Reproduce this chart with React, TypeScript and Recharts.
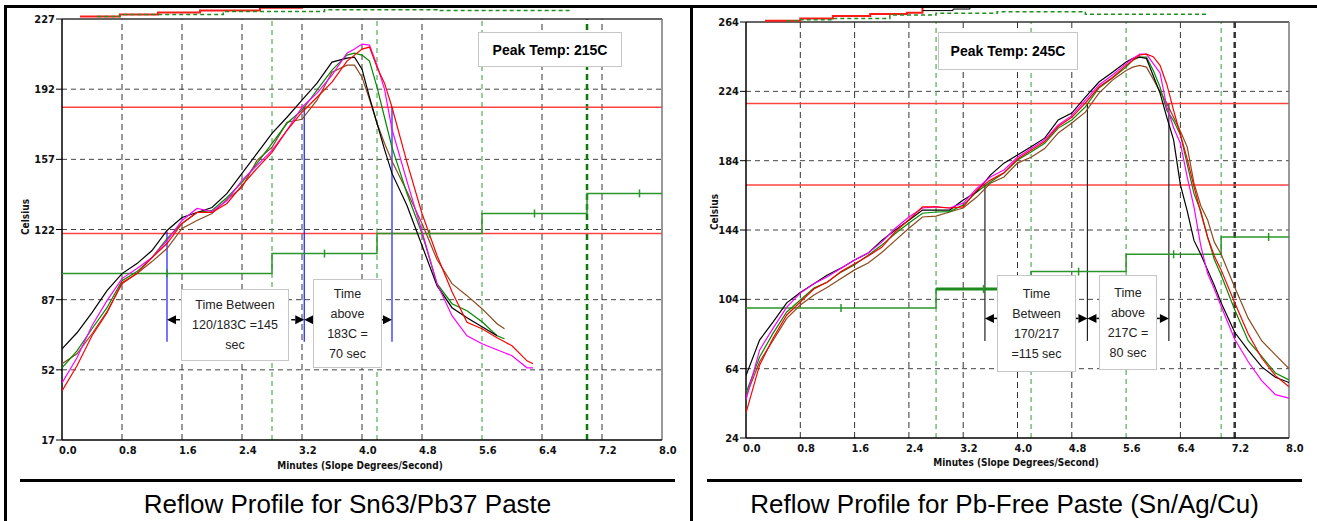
import React from "react";
import { ComposedChart, Line, XAxis, YAxis, ReferenceLine } from "recharts";

const FONT = "'Liberation Sans', Arial, sans-serif";
const NARROW = "'Liberation Sans Narrow', 'DejaVu Sans Condensed', Arial, sans-serif";

// shared axis / oven layout (minutes)
const xTicks = [0, 0.8, 1.6, 2.4, 3.2, 4.0, 4.8, 5.6, 6.4, 7.2, 8.0];
const gridTimes = [0.8, 1.6, 2.4, 3.2, 4.0, 4.8, 6.4, 7.2];
const zoneEdges = [0, 2.8, 4.2, 5.6, 7.0, 8.0];
const zoneMarks = [1.4, 3.5, 4.9, 6.3, 7.7];

// ---------- Sn63/Pb37 ----------
const yTicksL = [17, 52, 87, 122, 157, 192, 227];
const limitsL = [120, 183];
const zoneTempsL = [100, 110, 120, 130, 140];
const markerTimesL = [1.4, 3.23, 4.4];
const markerTopsL = [121, 183, 183];
const timesL = [0, 0.2, 0.4, 0.6, 0.8, 1.0, 1.2, 1.4, 1.6, 1.8, 2.0, 2.2, 2.4, 2.6, 2.8, 3.0, 3.2, 3.4, 3.6, 3.8, 3.9, 4.0, 4.1, 4.2, 4.3, 4.4, 4.6, 4.8, 5.0, 5.2, 5.4, 5.6, 5.8, 5.9, 6.0, 6.2, 6.28];
const blackL = [62.5, 70.5, 80.5, 91.5, 100, 105, 111.5, 121.5, 128, 130.5, 133, 140, 150, 160, 170, 178, 186.5, 195, 205.5, 207.5, 208, 202, 188, 175, 162, 150, 134, 114, 94, 83, 78, 73.5, 69, null, null, null, null];
const redL = [41.5, 54, 69, 80.5, 95.5, 100, 108, 115, 125, 130.5, 130.5, 135, 144, 152.5, 160.5, 171.5, 180.5, 188, 195.5, 206, 209, 212, 213, 203, 195, 183, 155.5, 130, 109, 91, 75.7, 72.5, 68, 66, 64, 56.5, 55];
const magentaL = [45.5, 58, 74, 86.5, 97.5, 102.5, 108, 116.5, 126.5, 132.5, 131, 136.5, 146.5, 154, 161.5, 171.5, 183, 190, 199, 210, 212, 214.5, 214, 204, 192, 172, 146, 121, 95, 79, 69, 65, 62, 60.5, 59, 53, 53];
const greenL = [53, 61.5, 72.5, 83, 96.5, 101, 108, 117.5, 125, 130.5, 131.5, 138, 145.5, 155, 165, 175, 181.5, 191.5, 201.5, 209, 210, 209, 206, 193, 178, 163, 140, 120, 95, 85, 81.5, 76, 69, 67.5, null, null, null];
const brownL = [55, 60, 70, 81, 95, 100, 106, 112.5, 122.5, 126.5, 130, 137, 143, 156.5, 163, 175.5, 177, 186.5, 200.5, 204, 204, 198, 187, 175, 165, 156, 141, 125, 107, 95, 89, 82.5, 75, 72.5, null, null, null];
// traces running off the top of the plot
const topRedTimesL = [0.24, 0.77, 1.28, 1.84, 2.64, 3.2];
const topRedValsL = [228.2, 229.3, 230.3, 231.2, 232.6, 233];
const topGreenTimesL = [0.47, 0.77, 2.15, 3.5, 5.0, 6.8];
const topGreenValsL = [228.2, 229.2, 230.8, 231.6, 231.2, 231.2];

// ---------- Pb-free ----------
const yTicksR = [24, 64, 104, 144, 184, 224, 264];
const limitsR = [170, 217];
const zoneTempsR = [99, 110, 120, 130, 140];
const markerTimesR = [3.52, 5.03, 6.23];
const markerTopsR = [170, 217, 217];
const timesR = [0, 0.2, 0.4, 0.6, 0.8, 1.0, 1.2, 1.4, 1.6, 1.8, 2.0, 2.2, 2.4, 2.6, 2.8, 3.0, 3.2, 3.4, 3.6, 3.8, 4.0, 4.2, 4.4, 4.6, 4.8, 5.0, 5.2, 5.4, 5.6, 5.7, 5.8, 5.9, 6.0, 6.1, 6.2, 6.3, 6.4, 6.5, 6.6, 6.7, 6.8, 6.9, 7.0, 7.2, 7.4, 7.6, 7.8, 8.0];
const blackR = [60, 80.5, 91, 102, 108, 113, 118, 122, 126.7, 130.7, 138, 144, 149.7, 155.5, 155.5, 155.5, 161.3, 166, 175.7, 182.6, 187.3, 192, 197, 207.5, 211.5, 220.7, 229.4, 235, 241, 243, 243.8, 243, 233, 223, 209, 196, 170, 155, 138, 130, 121, 112, 102, 85, 74.5, 65, 59, 56];
const magentaR = [46, 74.7, 87.4, 99.5, 107.6, 113, 117, 122, 126.7, 130.7, 137, 145, 151.5, 156.7, 157.3, 156.7, 159.5, 168, 174.6, 178.6, 186, 191, 196, 204.6, 210, 219, 227.7, 233.4, 240, 243, 245.5, 245.5, 240, 234.6, 215, 203, 194, 174.6, 157.3, 135, 119, 110, 100, 81, 68, 57, 49, 47];
const redR = [38.5, 66, 81.7, 95, 102.5, 110, 114, 120, 124.5, 129, 134, 143, 150, 157.3, 157.3, 156.7, 157.3, 167, 172.8, 177, 185, 190, 195, 203.7, 209, 217.3, 226.5, 232, 239, 242, 245, 245.5, 244, 239, 228, 213, 199, 185, 169, 154, 140, 129, 121, 102, 84, 70, 60, 53.5];
const greenR = [50, 70.7, 84.5, 96.7, 103.6, 110.5, 114, 119.7, 124, 129.5, 135.3, 142, 148, 153.7, 154.4, 154.6, 158.4, 166, 171.7, 176.9, 184.4, 189, 194, 202.8, 207.5, 215, 226, 231.7, 238, 242, 243.8, 243.8, 236, 226.5, 213, 207, 199, 182, 165, 155, 140, 127, 118, 98, 80, 71, 61.5, 57.5];
const brownR = [48, 68, 80.5, 93, 100.7, 106.5, 111, 116, 121, 125, 131, 138, 145, 151.5, 152, 154.4, 156.7, 163, 171, 174.6, 182.6, 186, 191, 200, 205.7, 212, 223, 230.5, 236, 238, 239, 238, 231, 224, 217, 209, 201, 192, 171, 158, 150, 137, 130, 111, 93, 80, 72, 64];
const topRedTimesR = [0.28, 0.8, 1.28, 1.83, 2.37, 2.6];
const topRedValsR = [264.7, 266.1, 267.5, 268.6, 269.4, 275];
const topGreenTimesR = [0.6, 0.8, 1.28, 2.12, 2.8, 3.7, 5.0, 6.8];
const topGreenValsR = [264.7, 265.3, 266.1, 268, 269, 270, 268.5, 268.5];
const topBlackTimesR = [2.6, 3.05, 3.3];
const topBlackValsR = [270.6, 271.5, 275];

const XTick = (props: any) => {
  const { x, y, payload } = props;
  return (
    <text x={x - 3} y={y + 14} textAnchor="start" fontSize={11} fontFamily={NARROW} fontWeight="bold" fill="#111">
      {Number(payload.value).toFixed(1)}
    </text>
  );
};

const YTick = (props: any) => {
  const { x, y, payload } = props;
  return (
    <text x={x - 1} y={y + 4} textAnchor="end" fontSize={11} fontFamily={NARROW} fontWeight="bold" fill="#111">
      {payload.value}
    </text>
  );
};

const renderArrow = (p: any) => {
  const { cx, cy, payload, index } = p;
  if (cx == null || cy == null) return <g key={index} />;
  const s = payload.dir === "L" ? 1 : -1;
  return (
    <g key={index}>
      <polygon points={`${cx},${cy} ${cx + s * 9},${cy - 4.5} ${cx + s * 9},${cy + 4.5}`} fill="#000" />
      <line x1={cx + s * 9} y1={cy} x2={cx + s * 13} y2={cy} stroke="#000" strokeWidth={1.5} />
    </g>
  );
};

const renderZoneMark = (p: any) => {
  const { cx, cy, index } = p;
  if (cx == null || cy == null) return <g key={index} />;
  return <line key={index} x1={cx} y1={cy - 4} x2={cx} y2={cy + 4} stroke="#2a962a" strokeWidth={1.5} />;
};

const toRows = (times: number[], vals: (number | null)[]) => times.map((t, i) => ({ t, v: vals[i] }));

function Profile({ c }: { c: any }) {
  const rows = c.times.map((t: number, i: number) => ({
    t,
    black: c.black[i],
    red: c.red[i],
    magenta: c.magenta[i],
    green: c.green[i],
    brown: c.brown[i],
  }));
  const stepRows = zoneEdges.map((t, i) => ({ t, v: c.zoneTemps[Math.min(i, c.zoneTemps.length - 1)] }));
  const markRows = zoneMarks.map((t, i) => ({ t, v: c.zoneTemps[i] }));
  const [m0, m1, m2] = c.markerTimes;
  const arrowRows = [
    { t: m0, v: c.arrowLevel, dir: "L" },
    { t: m1, v: c.arrowLevel, dir: "R" },
    { t: m1, v: c.arrowLevel, dir: "L" },
    { t: m2, v: c.arrowLevel, dir: "R" },
  ];
  const yMin = c.yTicks[0];
  const yTop = c.yTicks[c.yTicks.length - 1];
  const common = { isAnimationActive: false, activeDot: false, legendType: "none" as const };

  return (
    <ComposedChart width={c.width} height={480} data={rows} margin={c.margin}>
      <XAxis
        dataKey="t"
        type="number"
        domain={[0, 8]}
        ticks={xTicks}
        interval={0}
        allowDataOverflow
        height={30}
        tickSize={0}
        tickMargin={0}
        tickLine={false}
        axisLine={{ stroke: "#000", strokeWidth: 1.5 }}
        tick={<XTick />}
      />
      <YAxis
        type="number"
        domain={[yMin, c.yMax]}
        ticks={c.yTicks}
        interval={0}
        allowDataOverflow
        width={40}
        axisLine={false}
        tickSize={6}
        tickMargin={0}
        tickLine={{ stroke: "#000" }}
        tick={<YTick />}
      />
      {c.yTicks.slice(1, -1).map((v: number) => (
        <ReferenceLine key={"h" + v} y={v} stroke="#444" strokeDasharray="5 4" />
      ))}
      {gridTimes.map((t) => (
        <ReferenceLine
          key={"v" + t}
          segment={[{ x: t, y: yMin }, { x: t, y: yTop }]}
          stroke="#333"
          strokeWidth={t === c.thickGrid ? 2.5 : 1}
          strokeDasharray="6 4"
        />
      ))}
      {zoneEdges.slice(1, -1).map((t) => (
        <ReferenceLine
          key={"z" + t}
          segment={[{ x: t, y: yMin }, { x: t, y: yTop }]}
          stroke={t === c.thickGreen ? "#0b7a0b" : "#2f9f2f"}
          strokeWidth={t === c.thickGreen ? 2.5 : 1}
          strokeDasharray={t === c.thickGreen ? "6 4" : "5 4"}
        />
      ))}
      {c.limits.map((v: number) => (
        <ReferenceLine key={"r" + v} y={v} stroke="#ff4343" strokeWidth={1.5} />
      ))}
      <ReferenceLine y={yTop} stroke="#333" strokeWidth={1.5} />
      <ReferenceLine segment={[{ x: 0, y: yMin }, { x: 0, y: yTop }]} stroke="#000" strokeWidth={1.5} />
      <ReferenceLine segment={[{ x: 8, y: yMin }, { x: 8, y: yTop }]} stroke="#777" strokeWidth={1.5} />
      {c.markerTimes.map((t: number, i: number) => (
        <ReferenceLine
          key={"m" + i}
          segment={[{ x: t, y: c.markerTops[i] }, { x: t, y: c.markerBottom }]}
          stroke={c.markerColor}
          strokeWidth={1.2}
        />
      ))}

      <Line {...common} data={toRows(c.topRedTimes, c.topRedVals)} dataKey="v" type="stepAfter" stroke="#ff1a1a" strokeWidth={2} dot={false} />
      <Line {...common} data={toRows(c.topGreenTimes, c.topGreenVals)} dataKey="v" type="stepAfter" stroke="#1f8f1f" strokeWidth={1.5} strokeDasharray="4 3" dot={false} />
      {c.topBlackTimes && (
        <Line {...common} data={toRows(c.topBlackTimes, c.topBlackVals)} dataKey="v" type="stepAfter" stroke="#000" strokeWidth={1} dot={false} />
      )}

      <Line {...common} data={stepRows} dataKey="v" type="stepAfter" stroke="#2a962a" strokeWidth={1.5} dot={false} />
      {c.thickZone != null && (
        <Line
          {...common}
          data={[
            { t: zoneEdges[c.thickZone], v: c.zoneTemps[c.thickZone] },
            { t: zoneEdges[c.thickZone + 1], v: c.zoneTemps[c.thickZone] },
          ]}
          dataKey="v"
          stroke="#1f8a1f"
          strokeWidth={3}
          dot={false}
        />
      )}
      <Line {...common} data={markRows} dataKey="v" stroke="none" dot={renderZoneMark} />

      <Line {...common} dataKey="brown" stroke="#8b4a1c" strokeWidth={1.2} dot={false} />
      <Line {...common} dataKey="green" stroke="#008a00" strokeWidth={1.2} dot={false} />
      <Line {...common} dataKey="black" stroke="#000" strokeWidth={1.2} dot={false} />
      <Line {...common} dataKey="magenta" stroke="#ff00ff" strokeWidth={1.2} dot={false} />
      <Line {...common} dataKey="red" stroke="#ff0000" strokeWidth={1.2} dot={false} />

      <Line {...common} data={arrowRows} dataKey="v" stroke="none" dot={renderArrow} />
    </ComposedChart>
  );
}

const leftCfg = {
  width: 690,
  margin: { top: 8, right: 28, bottom: 10, left: 22 },
  yTicks: yTicksL,
  yMax: 232.5,
  limits: limitsL,
  zoneTemps: zoneTempsL,
  thickGreen: 7.0,
  markerTimes: markerTimesL,
  markerTops: markerTopsL,
  markerBottom: 66,
  markerColor: "#1a1aff",
  arrowLevel: 77,
  times: timesL,
  black: blackL,
  red: redL,
  magenta: magentaL,
  green: greenL,
  brown: brownL,
  topRedTimes: topRedTimesL,
  topRedVals: topRedValsL,
  topGreenTimes: topGreenTimesL,
  topGreenVals: topGreenValsL,
};

const rightCfg = {
  width: 627,
  margin: { top: 8, right: 28, bottom: 12, left: 16 },
  yTicks: yTicksR,
  yMax: 272.1,
  limits: limitsR,
  zoneTemps: zoneTempsR,
  thickZone: 1,
  thickGrid: 7.2,
  markerTimes: markerTimesR,
  markerTops: markerTopsR,
  markerBottom: 80,
  markerColor: "#222",
  arrowLevel: 93,
  times: timesR,
  black: blackR,
  red: redR,
  magenta: magentaR,
  green: greenR,
  brown: brownR,
  topRedTimes: topRedTimesR,
  topRedVals: topRedValsR,
  topGreenTimes: topGreenTimesR,
  topGreenVals: topGreenValsR,
  topBlackTimes: topBlackTimesR,
  topBlackVals: topBlackValsR,
};

const abs = (left: number, top: number, width: number, height: number): React.CSSProperties => ({
  position: "absolute",
  left,
  top,
  width,
  height,
  boxSizing: "border-box",
});

function NoteBox({ box, lines, bold }: { box: number[]; lines: string[]; bold?: boolean }) {
  return (
    <div
      style={{
        ...abs(box[0], box[1], box[2], box[3]),
        border: "1.5px solid #c6c6c6",
        background: "#fff",
        display: "flex",
        flexDirection: "column",
        justifyContent: "center",
        alignItems: "center",
        fontFamily: FONT,
        fontSize: bold ? 14 : 12.5,
        fontWeight: bold ? "bold" : "normal",
        lineHeight: "20px",
        color: bold ? "#000" : "#222",
        whiteSpace: "nowrap",
      }}
    >
      {lines.map((l, i) => (
        <div key={i}>{l}</div>
      ))}
    </div>
  );
}

function VLabel({ cx, cy, text }: { cx: number; cy: number; text: string }) {
  return (
    <div
      style={{
        ...abs(cx - 30, cy - 7, 60, 14),
        transform: "rotate(-90deg)",
        textAlign: "center",
        fontFamily: NARROW,
        fontWeight: "bold",
        fontSize: 10,
        lineHeight: "14px",
        color: "#111",
      }}
    >
      {text}
    </div>
  );
}

function XLabel({ cx, cy, text }: { cx: number; cy: number; text: string }) {
  return (
    <div
      style={{
        ...abs(cx - 100, cy - 7, 200, 14),
        textAlign: "center",
        fontFamily: NARROW,
        fontWeight: "bold",
        fontSize: 10,
        lineHeight: "14px",
        color: "#111",
        whiteSpace: "nowrap",
      }}
    >
      {text}
    </div>
  );
}

export default function App() {
  return (
    <div style={{ position: "fixed", left: 0, top: 0, width: 1317, height: 521, background: "#fff", overflow: "hidden" }}>
      <div style={abs(0, 0, 690, 480)}>
        <Profile c={leftCfg} />
      </div>
      <div style={abs(690, 0, 627, 480)}>
        <Profile c={rightCfg} />
      </div>

      <NoteBox box={[478, 32, 144, 35]} lines={["Peak Temp: 215C"]} bold />
      <NoteBox box={[938, 32, 140, 38]} lines={["Peak Temp: 245C"]} bold />
      <NoteBox box={[181, 289, 108, 72]} lines={["Time Between", "120/183C =145", "sec"]} />
      <NoteBox box={[313, 279, 69, 89]} lines={["Time", "above", "183C =", "70 sec"]} />
      <NoteBox box={[997, 275, 79, 97]} lines={["Time", "Between", "170/217", "=115 sec"]} />
      <NoteBox box={[1099, 275, 58, 95]} lines={["Time", "above", "217C =", "80 sec"]} />

      <VLabel cx={26} cy={217} text="Celsius" />
      <VLabel cx={715} cy={212} text="Celsius" />
      <XLabel cx={360} cy={466} text="Minutes (Slope Degrees/Second)" />
      <XLabel cx={1016} cy={463} text="Minutes (Slope Degrees/Second)" />

      <div style={{ ...abs(20, 479, 655, 3), background: "#000" }} />
      <div style={{ ...abs(707, 479, 595, 3), background: "#000" }} />

      <div style={{ ...abs(0, 489, 695, 30), textAlign: "center", fontFamily: FONT, fontSize: 26, lineHeight: "30px", color: "#000", whiteSpace: "nowrap" }}>
        Reflow Profile for Sn63/Pb37 Paste
      </div>
      <div style={{ ...abs(700, 489, 609, 30), textAlign: "center", fontFamily: FONT, fontSize: 26, lineHeight: "30px", color: "#000", whiteSpace: "nowrap" }}>
        Reflow Profile for Pb-Free Paste (Sn/Ag/Cu)
      </div>

      <div style={{ ...abs(4, 5, 1313, 3), background: "#000" }} />
      <div style={{ ...abs(4, 5, 3, 516), background: "#000" }} />
      <div style={{ ...abs(690, 5, 3, 516), background: "#000" }} />
    </div>
  );
}
